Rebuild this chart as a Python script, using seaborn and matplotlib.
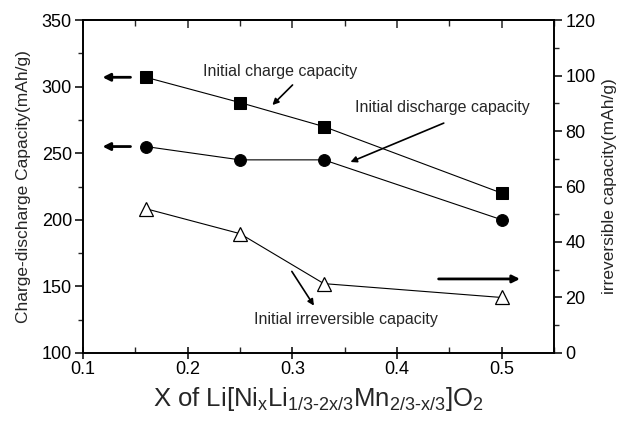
import matplotlib
matplotlib.use("Agg")
import matplotlib.pyplot as plt
import seaborn as sns
import pandas as pd
from matplotlib.ticker import MultipleLocator

x_vals = [0.16, 0.25, 0.33, 0.5]
charge = [307, 288, 270, 220]
discharge = [255, 245, 245, 200]
irreversible = [52, 43, 25, 20]

left_ticks = [100, 150, 200, 250, 300, 350]
right_ticks = [0, 20, 40, 60, 80, 100, 120]
x_ticks = [0.1, 0.2, 0.3, 0.4, 0.5]

sns.set_style("ticks")
plt.rcParams['font.family'] = ['Liberation Sans', 'DejaVu Sans']
plt.rcParams['mathtext.fontset'] = 'custom'
plt.rcParams['mathtext.rm'] = 'Liberation Sans'
plt.rcParams['mathtext.it'] = 'Liberation Sans'
plt.rcParams['mathtext.default'] = 'regular'

df = pd.DataFrame({"x": x_vals, "charge": charge, "discharge": discharge, "irr": irreversible})

fig = plt.figure(figsize=(6.29, 4.23), dpi=100)
ax = fig.add_axes([0.132, 0.1655, 0.749, 0.7872])
ax2 = ax.twinx()

sns.lineplot(data=df, x="x", y="charge", ax=ax, color="black", lw=0.8,
             marker="s", markersize=8, markeredgecolor="black", markerfacecolor="black")
sns.lineplot(data=df, x="x", y="discharge", ax=ax, color="black", lw=0.8,
             marker="o", markersize=8.5, markeredgecolor="black", markerfacecolor="black")
sns.lineplot(data=df, x="x", y="irr", ax=ax2, color="black", lw=0.8,
             marker="^", markersize=10, markeredgecolor="black", markerfacecolor="white",
             markeredgewidth=0.9)

ax.set_xlim(0.1, 0.55)
ax.set_ylim(100, 350)
ax2.set_ylim(0, 120)
ax.set_xticks(x_ticks)
ax.set_xticklabels([str(t) for t in x_ticks])
ax.set_yticks(left_ticks)
ax2.set_yticks(right_ticks)
ax.xaxis.set_minor_locator(MultipleLocator(0.05))
ax.yaxis.set_minor_locator(MultipleLocator(25))
ax2.yaxis.set_minor_locator(MultipleLocator(10))

for a in (ax, ax2):
    for s in a.spines.values():
        s.set_visible(True)
        s.set_linewidth(1.2)
        s.set_color("black")

ax.tick_params(axis='x', which='major', direction='inout', length=9, width=1.1,
               labelsize=13, colors='black', pad=1)
ax.tick_params(axis='x', which='minor', direction='in', length=4, width=1.0)
ax.tick_params(axis='y', which='major', direction='out', length=6, width=1.1,
               labelsize=13, colors='black', pad=2)
ax.tick_params(axis='y', which='minor', direction='out', length=3.5, width=1.0)
ax2.tick_params(axis='y', which='major', direction='out', length=6, width=1.1,
                labelsize=13, colors='black', pad=2)
ax2.tick_params(axis='y', which='minor', direction='out', length=3.5, width=1.0)

top = ax.secondary_xaxis('top')
top.set_xticks(x_ticks)
top.xaxis.set_minor_locator(MultipleLocator(0.05))
top.tick_params(axis='x', which='major', direction='in', length=6, width=1.1, labeltop=False)
top.tick_params(axis='x', which='minor', direction='in', length=4, width=1.0)
top.spines['top'].set_linewidth(1.2)

ax.set_xlabel(r"X of Li[Ni$_{x}$Li$_{1/3\text{-}2x/3}$Mn$_{2/3\text{-}x/3}$]O$_{2}$",
              fontsize=18.5, labelpad=5)
ax.set_ylabel("Charge-discharge Capacity(mAh/g)", fontsize=12.5, labelpad=8)
ax2.set_ylabel("irreversible capacity(mAh/g)", fontsize=12.5, labelpad=5)

arrow_thick = dict(arrowstyle="-|>", color="black", lw=2, mutation_scale=11)
ax.annotate("", xy=(0.116, 307), xytext=(0.148, 307), arrowprops=arrow_thick)
ax.annotate("", xy=(0.116, 255), xytext=(0.148, 255), arrowprops=arrow_thick)
ax.annotate("", xy=(0.52, 155.6), xytext=(0.437, 155.6), arrowprops=arrow_thick)

arrow_thin = dict(arrowstyle="-|>", color="black", lw=1.2, mutation_scale=9)
ax.text(0.215, 311, "Initial charge capacity", fontsize=11.5, va="center", ha="left")
ax.annotate("", xy=(0.279, 284.7), xytext=(0.302, 302.7), arrowprops=arrow_thin)
ax.text(0.360, 284, "Initial discharge capacity", fontsize=11.5, va="center", ha="left")
ax.annotate("", xy=(0.353, 242.6), xytext=(0.447, 273.4), arrowprops=arrow_thin)
ax.text(0.263, 125.5, "Initial irreversible capacity", fontsize=11.5, va="center", ha="left")
ax.annotate("", xy=(0.322, 133.8), xytext=(0.298, 163), arrowprops=arrow_thin)

fig.savefig("out.png", dpi=100)
